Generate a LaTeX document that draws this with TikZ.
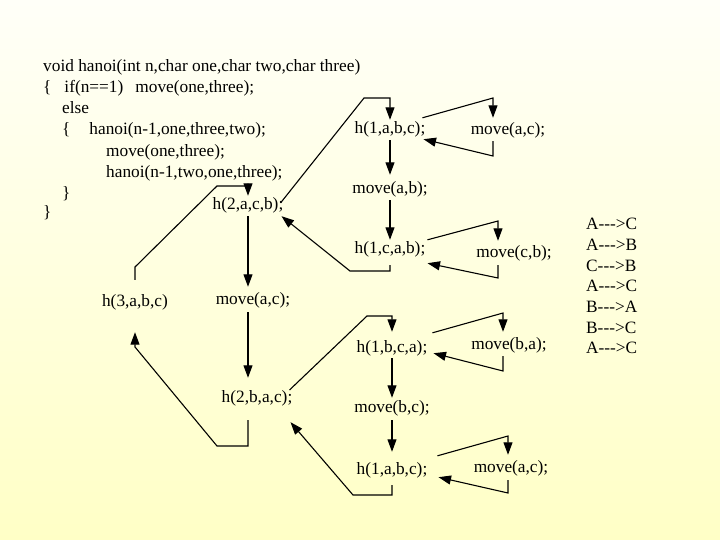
\documentclass[tikz,border=0pt]{standalone}
\usepackage{fontspec}
\newfontfamily\codefont{Liberation Serif}
\usetikzlibrary{arrows.meta}
\definecolor{bgtop}{RGB}{255,255,248}
\definecolor{bgbot}{RGB}{255,255,198}

\begin{document}
\begin{tikzpicture}[x=1pt, y=-1pt,
    code/.style={anchor=west, inner sep=0pt, text height=12pt, text depth=4pt, font=\codefont\fontsize{17.3}{20}\selectfont},
    call/.style={inner sep=2pt, text height=12pt, text depth=4pt, font=\codefont\fontsize{17.3}{20}\selectfont},
    trace/.style={anchor=north west, inner sep=0pt, align=left, font=\codefont\fontsize{17.3}{20.7}\selectfont},
    link/.style={line width=1.1pt, draw=black},
    arrow/.style={link, -{Triangle[length=12.5pt,width=9pt]}}
]
    % Background
    \shade[top color=bgtop, bottom color=bgbot] (0,0) rectangle (720,540);
    \useasboundingbox (0,0) rectangle (720,540);

    % Source code
    \node[code] (sig) at (43,68) {void hanoi(int n,char one,char two,char three)};
    \node[code] (test) at (43,89) {\{\hspace{13pt}if(n==1)\hspace{12pt}move(one,three);};
    \node[code] (els) at (62,110) {else};
    \node[code] (rec1) at (62,131) {\{\hspace{19pt}hanoi(n-1,one,three,two);};
    \node[code] (mv) at (106,153) {move(one,three);};
    \node[code] (rec2) at (106,174) {hanoi(n-1,two,one,three);};
    \node[code] (close1) at (62,195) {\}};
    \node[code] (close2) at (43,214) {\}};

    % Call tree
    \node[call] (h3) at (135,302) {h(3,a,b,c)};
    \node[call] (h2acb) at (248,206) {h(2,a,c,b);};
    \node[call] (mvac) at (253,300) {move(a,c);};
    \node[call] (h2bac) at (257,398) {h(2,b,a,c);};

    \node[call] (h1abc) at (390,130) {h(1,a,b,c);};
    \node[call] (mvacA) at (508,131) {move(a,c);};
    \node[call] (mvab) at (390,190) {move(a,b);};
    \node[call] (h1cab) at (390,250) {h(1,c,a,b);};
    \node[call] (mvcb) at (514,254) {move(c,b);};

    \node[call] (h1bca) at (392,348) {h(1,b,c,a);};
    \node[call] (mvba) at (509,345) {move(b,a);};
    \node[call] (mvbc) at (392,408) {move(b,c);};
    \node[call] (h1abcB) at (392,470) {h(1,a,b,c);};
    \node[call] (mvacB) at (511,468) {move(a,c);};

    % Moves
    \node[trace] (moves) at (586,218) {A-{}-{}->C\\A-{}-{}->B\\C-{}-{}->B\\A-{}-{}->C\\B-{}-{}->A\\B-{}-{}->C\\A-{}-{}->C};

    % Top level
    \draw[arrow] ([yshift=12pt]h3.north) -- (135,267) -- (217,186) -- (248,186) -- (h2acb.north);
    \draw[arrow] (h2acb.south) -- ([xshift=-5pt,yshift=3pt]mvac.north);
    \draw[arrow] ([xshift=-5pt,yshift=-2pt]mvac.south) -- ([xshift=-9pt,yshift=10pt]h2bac.north);
    \draw[arrow] ([xshift=-9pt,yshift=-12pt]h2bac.south) -- (248,446) -- (217,446) -- (135,347) -- ([yshift=-20pt]h3.south);

    % h(2,a,c,b)
    \draw[arrow] ([xshift=-5pt,yshift=3pt]h2acb.east) -- (364,98) -- (390,98) -- (h1abc.north);
    \draw[arrow] ([xshift=-5pt,yshift=2pt]h1abc.north east) -- (493,98) -- ([xshift=-15pt,yshift=3pt]mvacA.north);
    \draw[arrow] ([xshift=-15pt]mvacA.south) -- (493,156) -- ([xshift=-4pt,yshift=1pt]h1abc.south east);
    \draw[arrow] (h1abc.south) -- ([yshift=5pt]mvab.north);
    \draw[arrow] (mvab.south) -- (h1cab.north);
    \draw[arrow] (h1cab.north east) -- (498,221) -- ([xshift=-16pt,yshift=3pt]mvcb.north);
    \draw[arrow] ([xshift=-16pt,yshift=-1pt]mvcb.south) -- (498,278) -- ([yshift=-3pt]h1cab.south east);
    \draw[arrow] ([yshift=-5pt]h1cab.south) -- (390,271) -- (350,271) -- ([xshift=-4pt]h2acb.south east);

    % h(2,b,a,c)
    \draw[arrow] ([xshift=-5pt,yshift=8pt]h2bac.east) -- (367,316) -- (392,316) -- ([yshift=6pt]h1bca.north);
    \draw[arrow] ([xshift=3pt,yshift=5pt]h1bca.north east) -- (503,313) -- ([xshift=-6pt,yshift=3pt]mvba.north);
    \draw[arrow] ([xshift=-6pt,yshift=-1pt]mvba.south) -- (503,371) -- ([xshift=4pt,yshift=5pt]h1bca.south east);
    \draw[arrow] (h1bca.south) -- (mvbc.north);
    \draw[arrow] ([yshift=-2pt]mvbc.south) -- ([yshift=8pt]h1abcB.north);
    \draw[arrow] ([xshift=8pt,yshift=4pt]h1abcB.north east) -- (508,436) -- ([xshift=-3pt,yshift=3pt]mvacB.north);
    \draw[arrow] ([xshift=-3pt,yshift=-2pt]mvacB.south) -- (508,493) -- ([xshift=9pt,yshift=3pt]h1abcB.south east);
    \draw[arrow] ([yshift=-5pt]h1abcB.south) -- (392,495) -- (353,495) -- ([xshift=-4pt,yshift=-14pt]h2bac.south east);
\end{tikzpicture}
\end{document}
